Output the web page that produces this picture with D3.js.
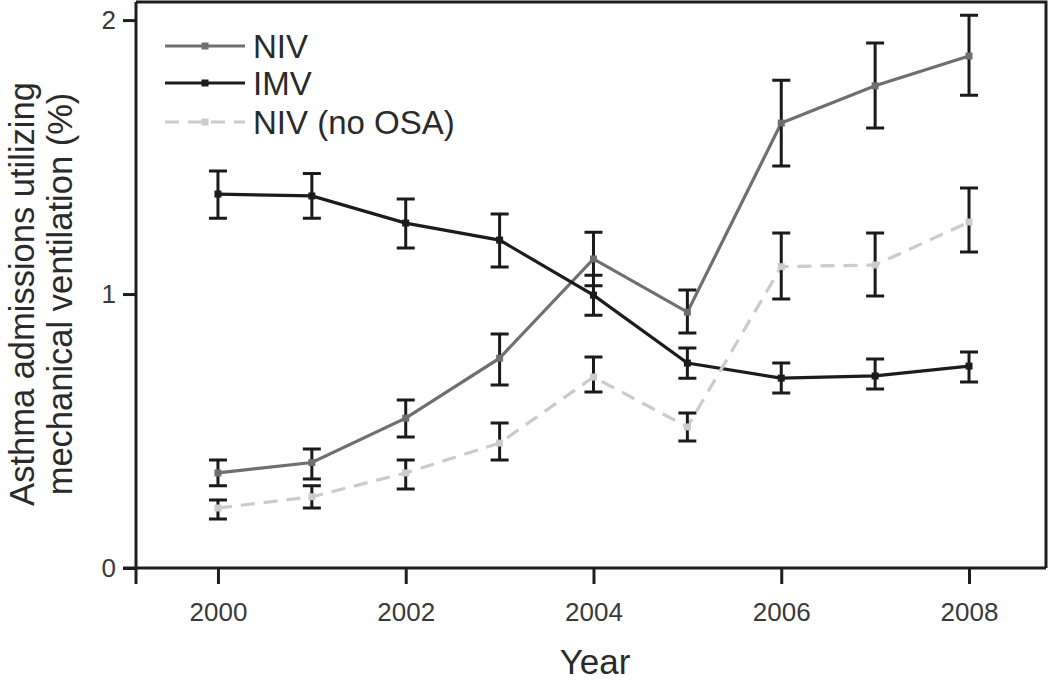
<!DOCTYPE html>
<html>
<head>
<meta charset="utf-8">
<script src="https://cdn.jsdelivr.net/npm/d3@7"></script>
<style>
  html, body { margin: 0; padding: 0; background: #fff; }
  svg { display: block; font-family: "Liberation Sans", Arial, sans-serif; }
</style>
</head>
<body>
<svg id="chart" width="1050" height="682"></svg>
<script>
// ---- data ----
const years = [2000, 2001, 2002, 2003, 2004, 2005, 2006, 2007, 2008];
const xTicks = [2000, 2002, 2004, 2006, 2008];
const yTicks = [0, 1, 2];

const nivValues   = [0.347, 0.385, 0.547, 0.766, 1.128, 0.934, 1.624, 1.760, 1.869];
const nivLower    = [0.300, 0.325, 0.478, 0.668, 1.030, 0.858, 1.467, 1.606, 1.726];
const nivUpper    = [0.394, 0.434, 0.613, 0.854, 1.226, 1.015, 1.780, 1.916, 2.018];

const imvValues   = [1.365, 1.358, 1.259, 1.197, 0.996, 0.748, 0.693, 0.701, 0.737];
const imvLower    = [1.277, 1.277, 1.168, 1.099, 0.923, 0.693, 0.639, 0.653, 0.679];
const imvUpper    = [1.449, 1.440, 1.347, 1.292, 1.069, 0.803, 0.748, 0.763, 0.788];

const noOsaValues = [0.219, 0.260, 0.347, 0.456, 0.697, 0.515, 1.100, 1.106, 1.263];
const noOsaLower  = [0.179, 0.219, 0.288, 0.394, 0.642, 0.464, 0.982, 0.993, 1.153];
const noOsaUpper  = [0.248, 0.300, 0.394, 0.529, 0.770, 0.566, 1.223, 1.223, 1.387];

const seriesNames = ["NIV", "IMV", "NIV (no OSA)"];
const xTitle = "Year";
const yTitleLines = ["Asthma admissions utilizing", "mechanical ventilation (%)"];

(function () {
// ---- build series ----
const series = [
  { name: seriesNames[0], vals: nivValues, lo: nivLower, hi: nivUpper, color: "#6f6f6f", dash: null },
  { name: seriesNames[1], vals: imvValues, lo: imvLower, hi: imvUpper, color: "#1c1c1c", dash: null },
  { name: seriesNames[2], vals: noOsaValues, lo: noOsaLower, hi: noOsaUpper, color: "#cbcbcb", dash: "14,9" }
];

const svg = d3.select("#chart");
const pLeft = 136, pRight = 1046, pTop = 2, pBottom = 568;

const x = d3.scaleLinear().domain([1999.127, 2008.82]).range([pLeft, pRight]);
const y = d3.scaleLinear().domain([0, 2.066]).range([pBottom, pTop]);

const axisColor = "#1e1e1e";

// frame (top & right)
svg.append("path")
  .attr("d", `M${pLeft},${pTop}H${pRight}V${pBottom}`)
  .attr("fill", "none").attr("stroke", axisColor).attr("stroke-width", 3);

// x axis
const gx = svg.append("g").attr("transform", `translate(0,${pBottom})`)
  .call(d3.axisBottom(x).tickValues(xTicks).tickFormat(d3.format("d")).tickSize(16).tickSizeOuter(0).tickPadding(19));
gx.select(".domain").attr("d", `M${pLeft - 13},0H${pRight}`).attr("stroke", axisColor).attr("stroke-width", 3);
gx.selectAll(".tick line").attr("stroke", axisColor).attr("stroke-width", 3);
gx.selectAll(".tick text").attr("font-size", 26).attr("fill", "#3a3a3a")
  .attr("font-family", "Liberation Sans, Arial, sans-serif");

// y axis
const gy = svg.append("g").attr("transform", `translate(${pLeft},0)`)
  .call(d3.axisLeft(y).tickValues(yTicks).tickFormat(d3.format("d")).tickSize(13).tickSizeOuter(0).tickPadding(7));
gy.select(".domain").attr("d", `M0,${pTop}V${pBottom + 16}`).attr("stroke", axisColor).attr("stroke-width", 3);
gy.selectAll(".tick line").attr("stroke", axisColor).attr("stroke-width", 3);
gy.selectAll(".tick text").attr("font-size", 26).attr("fill", "#3a3a3a")
  .attr("font-family", "Liberation Sans, Arial, sans-serif");

// axis titles
svg.append("text")
  .attr("x", 595).attr("y", 674)
  .attr("text-anchor", "middle").attr("font-size", 35).attr("fill", "#2a2a2a")
  .text(xTitle);

const yTitleBase = [34, 72];
yTitleLines.forEach((t, i) => {
  svg.append("text")
    .attr("transform", `translate(${yTitleBase[i]},294) rotate(-90)`)
    .attr("text-anchor", "middle").attr("font-size", 34.5).attr("fill", "#2a2a2a")
    .text(t);
});

// lines
const line = d3.line().x((d, i) => x(years[i])).y(d => y(d));
series.forEach(s => {
  svg.append("path")
    .datum(s.vals)
    .attr("d", line)
    .attr("fill", "none")
    .attr("stroke", s.color)
    .attr("stroke-width", 3.2)
    .attr("stroke-dasharray", s.dash);
});

// error bars
const capHalf = 9;
series.forEach(s => {
  const g = svg.append("g").attr("stroke", "#1a1a1a").attr("stroke-width", 3).attr("fill", "none");
  years.forEach((yr, i) => {
    const cx = x(yr), y1 = y(s.hi[i]), y0 = y(s.lo[i]);
    g.append("path").attr("d",
      `M${cx},${y0}V${y1}M${cx - capHalf},${y1}H${cx + capHalf}M${cx - capHalf},${y0}H${cx + capHalf}`);
  });
});

// markers
series.forEach(s => {
  svg.append("g").selectAll("rect").data(s.vals).join("rect")
    .attr("x", (d, i) => x(years[i]) - 3.5)
    .attr("y", d => y(d) - 3.5)
    .attr("width", 7).attr("height", 7)
    .attr("fill", s.color);
});

// legend
const legY = [46, 83, 122];
series.forEach((s, i) => {
  const g = svg.append("g");
  g.append("line").attr("x1", 165).attr("x2", 245).attr("y1", legY[i]).attr("y2", legY[i])
    .attr("stroke", s.color).attr("stroke-width", 3.2).attr("stroke-dasharray", s.dash);
  g.append("rect").attr("x", 205 - 3.5).attr("y", legY[i] - 3.5).attr("width", 7).attr("height", 7)
    .attr("fill", s.color);
  g.append("text").attr("x", 253).attr("y", legY[i]).attr("dy", "0.36em")
    .attr("font-size", 33).attr("fill", "#2a2a2a").text(s.name);
});
})();
</script>
</body>
</html>
